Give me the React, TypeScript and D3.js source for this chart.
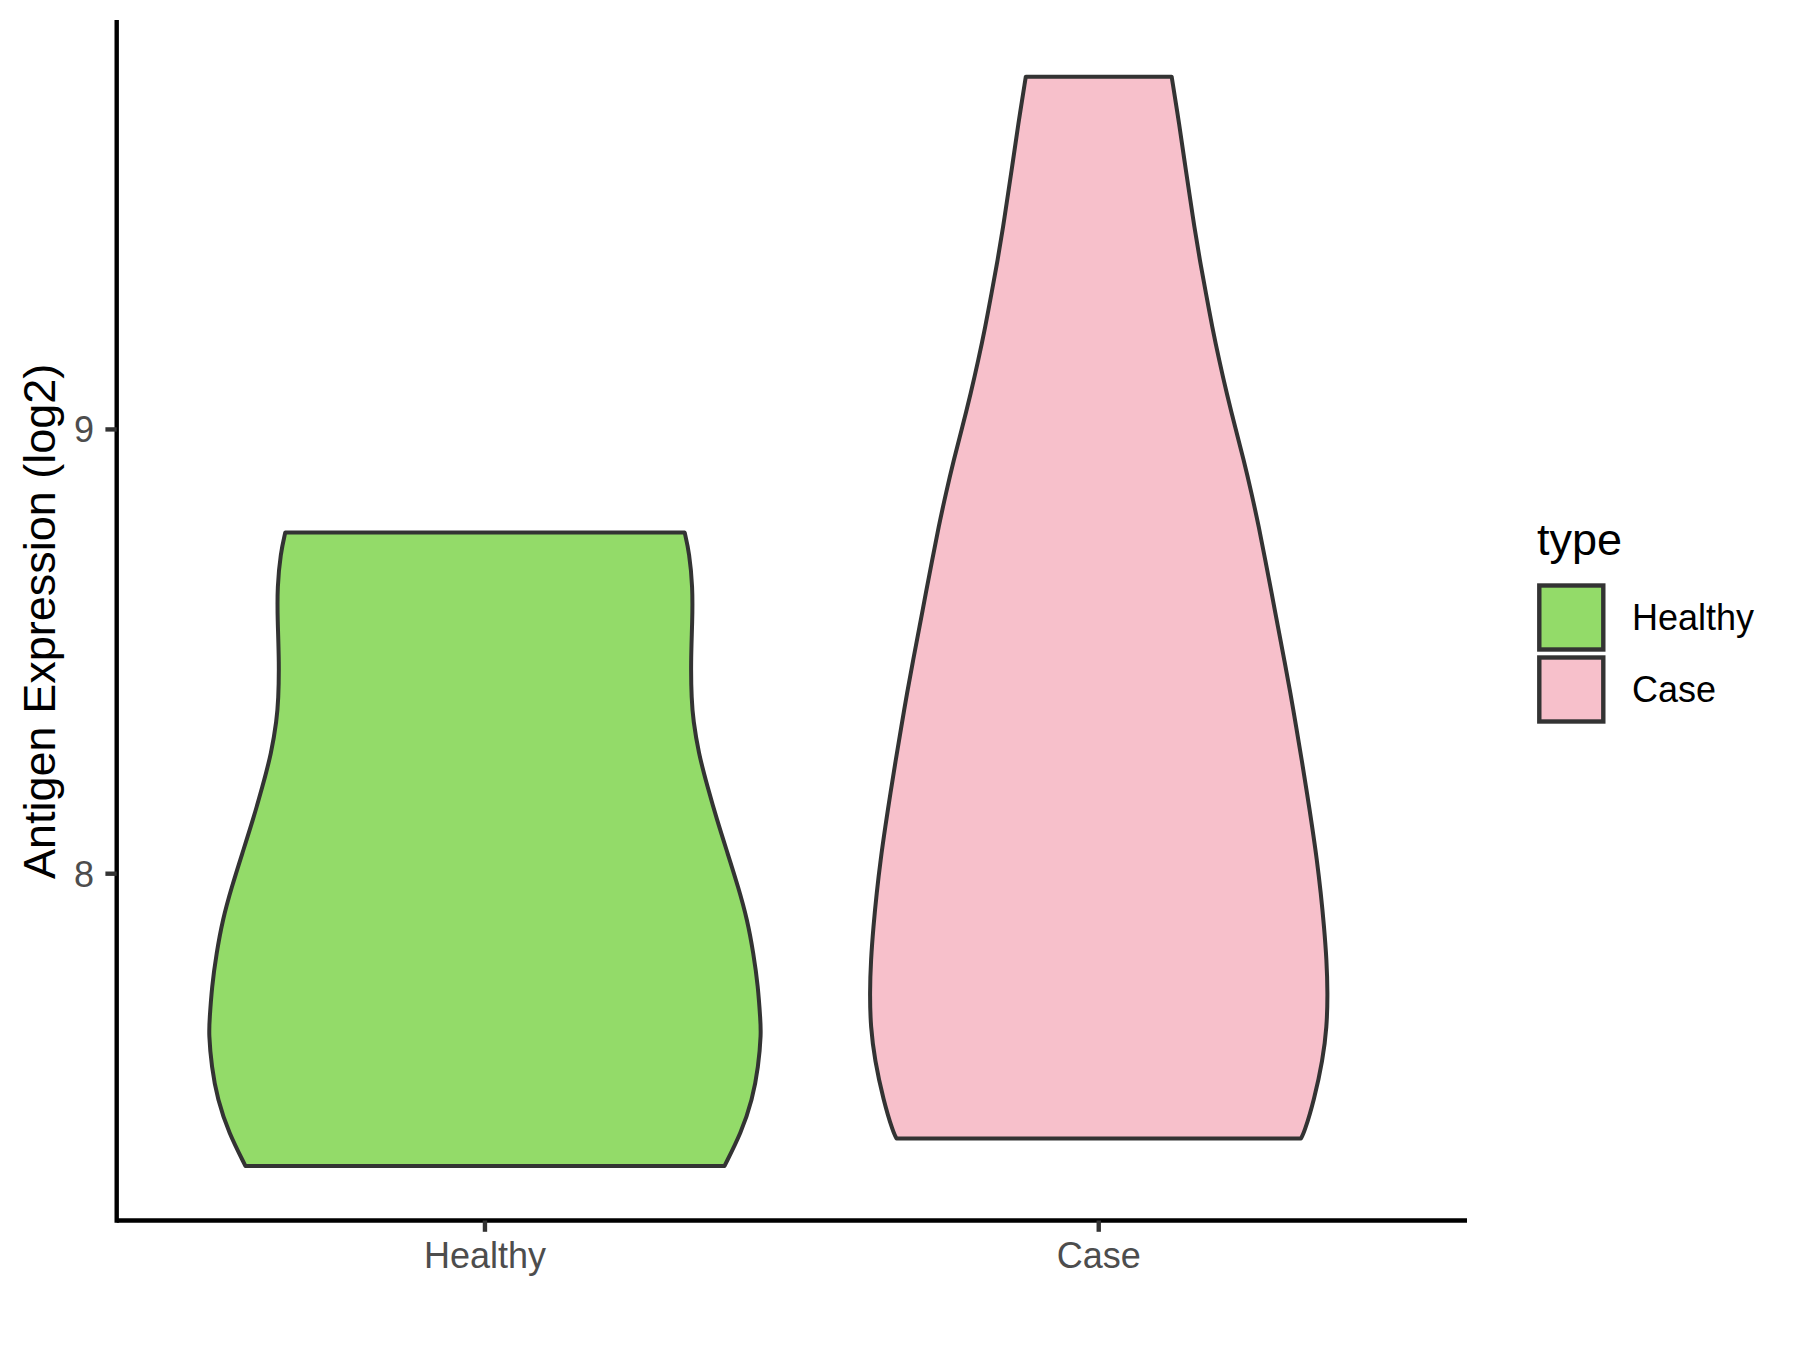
import React from 'react';
import * as d3 from 'd3';

// ---- data ----
const categories = ['Healthy', 'Case'];
const fillColors = ['#93DB69', '#F7C0CB'];

// Healthy violin: expression values (log2) and relative density (half width)
const healthyValues = [8.768, 8.722, 8.645, 8.571, 8.474, 8.391, 8.346, 8.272, 8.195, 8.121, 8.047, 7.970, 7.896, 7.821, 7.745, 7.671, 7.642, 7.565, 7.491, 7.417, 7.342];
const healthyDensity = [0.723, 0.740, 0.752, 0.751, 0.745, 0.748, 0.754, 0.773, 0.806, 0.840, 0.878, 0.917, 0.950, 0.972, 0.989, 0.997, 1.0, 0.990, 0.968, 0.928, 0.867];

// Case violin
const caseValues = [9.794, 9.681, 9.606, 9.532, 9.456, 9.381, 9.307, 9.230, 9.156, 9.082, 9.005, 8.931, 8.857, 8.780, 8.706, 8.632, 8.555, 8.481, 8.407, 8.330, 8.256, 8.182, 8.105, 8.031, 7.957, 7.880, 7.806, 7.732, 7.655, 7.581, 7.491, 7.417, 7.404];
const caseDensity = [0.264, 0.293, 0.310, 0.328, 0.346, 0.366, 0.388, 0.411, 0.436, 0.463, 0.494, 0.525, 0.553, 0.580, 0.603, 0.626, 0.649, 0.672, 0.694, 0.715, 0.735, 0.754, 0.773, 0.790, 0.804, 0.816, 0.825, 0.829, 0.826, 0.811, 0.780, 0.744, 0.732];

const yTicks = [8, 9];
const yTitle = 'Antigen Expression (log2)';
const legendTitle = 'type';

const W = 1800;
const H = 1350;
const FONT = 'Arial, "Liberation Sans", Helvetica, sans-serif';

export default function App() {
  const panel = { left: 116.7, right: 1467, top: 22.2, bottom: 1220.5 };

  const series = [
    { name: categories[0], values: healthyValues, density: healthyDensity, fill: fillColors[0] },
    { name: categories[1], values: caseValues, density: caseDensity, fill: fillColors[1] },
  ];

  const all = [...healthyValues, ...caseValues];
  const lo = d3.min(all) as number;
  const hi = d3.max(all) as number;
  const span = hi - lo;
  const y = d3.scaleLinear().domain([lo - 0.05 * span, hi + 0.05 * span]).range([panel.bottom, panel.top]);
  const x = d3.scalePoint<string>().domain(categories).range([panel.left, panel.right]).padding(0.6);
  const halfMax = 0.45 * x.step();

  const violinPath = (s: typeof series[number]) => {
    const cx = x(s.name) as number;
    const pts = s.values.map((v, i) => ({ v, d: s.density[i] }));
    const area = d3
      .area<{ v: number; d: number }>()
      .y((p) => y(p.v))
      .x0((p) => cx - p.d * halfMax)
      .x1((p) => cx + p.d * halfMax)
      .curve(d3.curveBasis);
    return area(pts) || '';
  };

  const legendX = 1539.3;
  const legendKeyTop = 585.5;
  const keySize = 64;
  const keyStep = 72;

  return (
    <svg
      width={W}
      height={H}
      viewBox={`0 0 ${W} ${H}`}
      style={{ position: 'absolute', left: 0, top: 0, background: '#fff' }}
      fontFamily={FONT}
    >
      <rect x={0} y={0} width={W} height={H} fill="#fff" />

      {/* violins */}
      {series.map((s) => (
        <path key={s.name} d={violinPath(s)} fill={s.fill} stroke="#333333" strokeWidth={4} strokeLinejoin="round" />
      ))}

      {/* axes lines */}
      <line x1={panel.left} x2={panel.left} y1={panel.top} y2={panel.bottom} stroke="#000" strokeWidth={4.4} strokeLinecap="square" />
      <line x1={panel.left} x2={panel.right} y1={panel.bottom} y2={panel.bottom} stroke="#000" strokeWidth={4.4} strokeLinecap="butt" />

      {/* y ticks */}
      {yTicks.map((t) => (
        <g key={t}>
          <line x1={panel.left - 11.3} x2={panel.left} y1={y(t)} y2={y(t)} stroke="#333333" strokeWidth={4.4} />
          <text x={94} y={y(t)} dy="0.36em" textAnchor="end" fontSize={36} fill="#4D4D4D">
            {t}
          </text>
        </g>
      ))}

      {/* x ticks */}
      {categories.map((c) => (
        <g key={c}>
          <line x1={x(c)} x2={x(c)} y1={panel.bottom} y2={panel.bottom + 11.3} stroke="#333333" strokeWidth={4.4} />
          <text x={x(c)} y={1268} textAnchor="middle" fontSize={36} fill="#4D4D4D">
            {c}
          </text>
        </g>
      ))}

      {/* y title */}
      <text
        transform={`translate(55, ${(panel.top + panel.bottom) / 2}) rotate(-90)`}
        textAnchor="middle"
        fontSize={45}
        fill="#000"
      >
        {yTitle}
      </text>

      {/* legend */}
      <text x={1537} y={555} fontSize={45} fill="#000">
        {legendTitle}
      </text>
      {series.map((s, i) => (
        <g key={s.name}>
          <rect
            x={legendX}
            y={legendKeyTop + i * keyStep}
            width={keySize}
            height={keySize}
            fill={s.fill}
            stroke="#333333"
            strokeWidth={4.4}
          />
          <text x={1632} y={legendKeyTop + i * keyStep + keySize / 2} dy="0.36em" fontSize={36} fill="#000">
            {s.name}
          </text>
        </g>
      ))}
    </svg>
  );
}
